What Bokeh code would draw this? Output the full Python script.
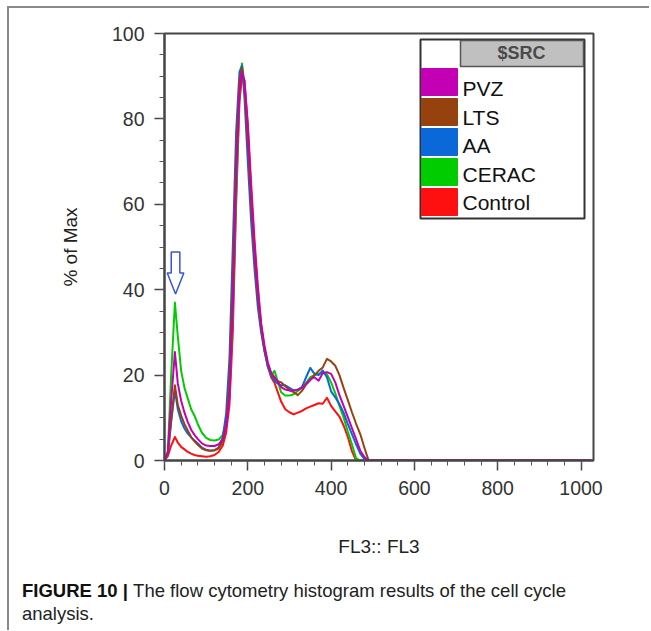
from bokeh.plotting import figure
from bokeh.models import SingleIntervalTicker, Label, Range1d, Div
from bokeh.layouts import column
from bokeh.embed import file_html
from bokeh.resources import INLINE

# ---------------- data ----------------
fl3 = [0, 8, 16, 25, 32, 40, 48, 56, 64, 72, 80, 90, 100, 110, 120, 130, 140,
       148, 156, 164, 172, 180, 186, 192, 200, 208, 216, 224, 232, 240, 248,
       256, 264, 272, 280, 290, 300, 310, 320, 330, 340, 350, 360, 370, 380,
       390, 400, 410, 420, 430, 440, 450, 460, 470, 480, 490, 500, 1024]

control = [0, 1, 3.5, 5.5, 4.2, 3.2, 2.6, 2, 1.6, 1.3, 1.1, 1, 0.9, 1, 1.3, 2, 3.5,
           6.5, 13, 30, 60, 84, 90, 89, 79, 65, 52, 41, 32, 26, 22,
           19.5, 18.2, 16, 13.8, 12, 11.3, 10.8, 11.2, 11.6, 12.2, 12.6, 13, 13.4, 13.3,
           14.7, 12.8, 11.5, 10.3, 8.2, 5.6, 2.2, 0, 0, 0, 0, 0, 0]

cerac = [0, 2, 20, 37, 29, 21, 17, 14.5, 12, 10.5, 8.5, 6.5, 5.3, 4.8, 4.7, 4.9, 6,
         9, 16, 35, 62, 86, 93, 88, 75, 60, 47, 38, 31, 26, 22.5,
         20, 21, 18.5, 16, 15.2, 15.2, 15.5, 16.3, 17, 18.2, 19.5, 20, 20.3, 20.5,
         20.2, 18.3, 15.8, 12.8, 10.1, 6.8, 3.8, 0.5, 0, 0, 0, 0, 0]

aa = [0, 1.5, 9, 16.5, 12, 9.2, 7.5, 6.3, 5.4, 4.7, 4, 3, 2.5, 2.3, 2.4, 3, 5.5,
      11, 24, 50, 77, 91, 92.5, 85, 70, 56, 45, 36, 30, 25.5, 22,
      20, 18.7, 18, 17.6, 17.6, 17, 16.4, 16.6, 17.2, 19.5, 21.7, 20.3, 20, 21.1,
      19.5, 16.2, 14.8, 13.2, 11.2, 8.6, 6.2, 3.8, 1.6, 0.3, 0, 0, 0]

lts = [0, 1.5, 9.5, 17.6, 13, 10.5, 8.5, 7, 5.5, 4.5, 3.7, 2.8, 2.4, 2.3, 2.4, 2.8, 4.5,
       8.5, 19, 43, 72, 89, 92, 87, 74, 60, 48, 38, 31, 26, 22.5,
       20.5, 19.1, 18.6, 18.3, 17.4, 16.5, 16, 15.3, 16.3, 17.8, 18.8, 20, 21, 21.8,
       23.8, 23.2, 22.2, 20, 17, 14.2, 11.3, 8.6, 6.2, 3, 0, 0, 0]

pvz = [0, 2, 14, 25.4, 18, 14, 11.2, 9, 7.2, 6, 5, 4, 3.5, 3.4, 3.4, 3.8, 5,
       8, 15, 36, 66, 86, 91, 89, 78, 63, 50, 40, 32, 27, 23,
       20.5, 19.5, 18.5, 17.2, 16.6, 16.4, 16.4, 16.6, 17, 18, 19, 19.5, 18.7, 20.5,
       20.7, 20.3, 18.3, 15.3, 12.8, 10.2, 7.6, 5, 2.3, 0.8, 0, 0, 0]

legend_labels = ["PVZ", "LTS", "AA", "CERAC", "Control"]
legend_colors = ["#C400B4", "#96420F", "#0A68D8", "#00CC00", "#FF1010"]
series = {"PVZ": pvz, "LTS": lts, "AA": aa, "CERAC": cerac, "Control": control}
draw_order = ["Control", "CERAC", "AA", "LTS", "PVZ"]

x_ticks = [0, 200, 400, 600, 800, 1000]
y_ticks = [0, 20, 40, 60, 80, 100]

caption_bold = "FIGURE 10 |"
caption_line1 = "The flow cytometry histogram results of the cell cycle"
caption_line2 = "analysis."

# ---------------- figure ----------------
X0, X1 = 0, 1030
Y0, Y1 = 0, 100
OX, OY = 9, 8                       # page position of the canvas origin
FL, FR, FT, FB = 164, 593, 33, 460  # frame edges (page px)
W, H = 640, 557


def X(px):
    return X0 + (px - FL) * (X1 - X0) / (FR - FL)


def Y(py):
    return Y0 + (FB - py) * (Y1 - Y0) / (FB - FT)


p = figure(width=W, height=H, x_range=Range1d(X0, X1), y_range=Range1d(Y0, Y1),
           output_backend="svg", toolbar_location=None,
           min_border_left=FL - OX, min_border_right=OX + W - FR,
           min_border_top=FT - OY, min_border_bottom=OY + H - FB)
p.xgrid.visible = False
p.ygrid.visible = False
p.outline_line_color = "#444444"
p.outline_line_width = 2
p.background_fill_color = "white"
p.border_fill_color = "white"

p.xaxis.ticker = SingleIntervalTicker(interval=x_ticks[1] - x_ticks[0], num_minor_ticks=5)
p.yaxis.ticker = SingleIntervalTicker(interval=y_ticks[1] - y_ticks[0], num_minor_ticks=4)
for ax in (p.xaxis[0], p.yaxis[0]):
    ax.axis_line_color = "#444444"
    ax.axis_line_width = 2
    ax.major_tick_line_color = "#444444"
    ax.major_tick_line_width = 1.5
    ax.minor_tick_line_color = "#555555"
    ax.major_tick_out = 10
    ax.major_tick_in = 0
    ax.minor_tick_out = 5
    ax.minor_tick_in = 0
    ax.major_label_text_font = "Liberation Sans"
    ax.major_label_text_font_size = "19.5px"
    ax.major_label_text_color = "#333333"
    ax.axis_label_text_font = "Liberation Sans"
    ax.axis_label_text_font_size = "19px"
    ax.axis_label_text_font_style = "normal"
    ax.axis_label_text_color = "#222222"
p.xaxis.major_label_standoff = 10
p.yaxis.major_label_standoff = 10
p.xaxis.axis_label = "FL3:: FL3"
p.yaxis.axis_label = "% of Max"
p.xaxis.axis_label_standoff = 38
p.yaxis.axis_label_standoff = 28

for name in draw_order:
    c = legend_colors[legend_labels.index(name)]
    p.line(fl3, series[name], line_color=c, line_width=2, line_join="round")

# hollow arrow pointing at the sub-G1 peak of CERAC
early = [i for i, v in enumerate(fl3) if v < 100]
ip = max(early, key=lambda i: cerac[i])
tx, ty = fl3[ip] + 1.5, cerac[ip] + 2
sw, hw = 4.3 * (X1 - X0) / (FR - FL), 8.3 * (X1 - X0) / (FR - FL)
hb, top = ty + 21 * (Y1 - Y0) / (FB - FT), ty + 42 * (Y1 - Y0) / (FB - FT)
p.patch([tx - sw, tx + sw, tx + sw, tx + hw, tx, tx - hw, tx - sw],
        [top, top, hb, hb, ty, hb, hb],
        fill_color="white", line_color="#3A55D6", line_width=1.5)

# legend box
p.quad(left=X(420), right=X(584), top=Y(39), bottom=Y(218),
       fill_color="white", line_color="#333333", line_width=2)
p.quad(left=X(460), right=X(583), top=Y(40), bottom=Y(66),
       fill_color="#C0C0C0", line_color="#555555", line_width=1.5)
p.add_layout(Label(x=X(521), y=Y(52.5), text="$SRC", text_align="center",
                   text_baseline="middle", text_font="Liberation Sans",
                   text_font_size="18px", text_font_style="bold", text_color="#4a4a4a"))
for i, (lab, col) in enumerate(zip(legend_labels, legend_colors)):
    t = 68 + 30 * i
    p.quad(left=X(421), right=X(457), top=Y(t), bottom=Y(t + 27),
           fill_color=col, line_color=col)
    p.add_layout(Label(x=X(462), y=Y(88 + 28.5 * i), text=lab, text_align="left",
                       text_baseline="middle", text_font="Liberation Sans",
                       text_font_size="21px", text_color="#111111"))

# caption
cap = Div(text=(f"<b style='color:#111'>{caption_bold}</b>&nbsp;<span>{caption_line1}</span>"
                f"<br><span>{caption_line2}</span>"),
          width=610,
          styles={"font-family": "'Liberation Sans', Arial, sans-serif",
                  "font-size": "18.5px", "line-height": "23px", "color": "#222222",
                  "padding-left": "8px", "padding-top": "9px", "white-space": "nowrap"})

layout = column(p, cap, spacing=0,
                styles={"border-left": "2px solid #8a8a8a",
                        "border-top": "2px solid #8a8a8a",
                        "margin-left": "7px", "margin-top": "6px"})

open("out.html", "w").write(file_html(layout, INLINE))
